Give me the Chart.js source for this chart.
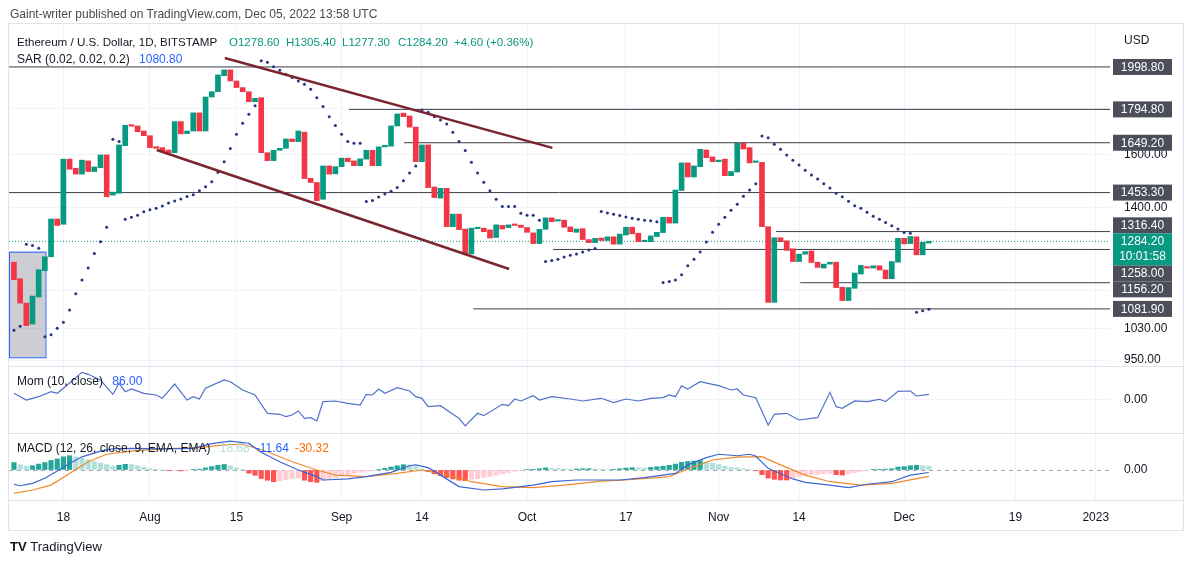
<!DOCTYPE html>
<html>
<head>
<meta charset="utf-8">
<script src="https://cdn.jsdelivr.net/npm/chart.js@4.4.1/dist/chart.umd.min.js"></script>
<style>
body { margin: 0; background: #fff; font-family: "Liberation Sans", Arial, sans-serif; }
#wrap { position: relative; width: 1194px; height: 565px; }
canvas { position: absolute; left: 0; top: 0; }
.t { position: absolute; font-size: 12px; line-height: 14px; white-space: nowrap; color: #131722; }
.t span { margin-left: 6px; }
.v { position: absolute; top: 35px; font-size: 11.5px; line-height: 14px; white-space: nowrap; color: #089981; }
.blue { color: #2962ff; }
</style>
</head>
<body>
<div id="wrap">
<canvas id="chart" width="1194" height="565"></canvas>
<div class="t" style="left:10px;top:7px;color:#4a4a4a">Gaint-writer published on TradingView.com, Dec 05, 2022 13:58 UTC</div>
<div class="t" style="left:17px;top:35px;font-size:11.6px">Ethereum / U.S. Dollar, 1D, BITSTAMP</div>
<div class="v" style="left:229px">O1278.60</div>
<div class="v" style="left:286px">H1305.40</div>
<div class="v" style="left:342px">L1277.30</div>
<div class="v" style="left:398px">C1284.20</div>
<div class="v" style="left:454px">+4.60 (+0.36%)</div>
<div class="t" style="left:17px;top:52px">SAR (0.02, 0.02, 0.2) <span class="blue">1080.80</span></div>
<div class="t" style="left:17px;top:374px">Mom (10, close) <span class="blue">86.00</span></div>
<div class="t" style="left:17px;top:441px">MACD (12, 26, close, 9, EMA, EMA) <span style="color:#b2dfdb">18.68</span><span class="blue">-11.64</span><span style="color:#ff6d00">-30.32</span></div>
<div class="t" style="left:10px;top:540px;font-weight:bold;font-size:13px">TV <span style="font-weight:normal;margin-left:0">TradingView</span></div>
</div>
<script>
// daily candles, index 0 = Jul 10 2022, index 148 = Dec 5 2022
const opens = [1218,1168,1098,1041,1115,1192,1235,1359,1341,1582,1546,1523,1575,1533,1548,1599,1444,1451,1637,1724,
  1721,1699,1679,1633,1629,1619,1608,1740,1688,1699,1779,1699,1852,1877,1955,1984,1929,1897,1877,1830,
  1849,1608,1576,1618,1626,1665,1654,1694,1507,1491,1429,1555,1524,1552,1586,1575,1556,1582,1618,1556,
  1632,1635,1721,1778,1765,1716,1572,1640,1474,1433,1469,1333,1376,1325,1244,1326,1328,1322,1297,1337,
  1330,1339,1338,1330,1312,1277,1324,1363,1352,1355,1332,1314,1326,1290,1280,1295,1287,1299,1275,1305,
  1331,1311,1283,1283,1300,1313,1365,1345,1461,1567,1512,1552,1619,1591,1572,1582,1517,1531,1647,1629,
  1569,1569,1333,1100,1296,1286,1260,1220,1243,1253,1218,1200,1212,1218,1143,1105,1140,1182,1204,1200,
  1207,1194,1168,1218,1294,1277,1299,1241,1278.6];
const closes = [1165,1098,1037,1118,1195,1235,1359,1337,1582,1542,1523,1578,1533,1551,1599,1438,1455,1640,1724,1720,
  1696,1679,1629,1626,1613,1606,1740,1687,1699,1779,1699,1852,1877,1959,1984,1929,1897,1877,1830,1846,
  1608,1576,1618,1626,1665,1654,1699,1506,1491,1424,1555,1523,1552,1586,1572,1556,1583,1618,1556,1632,
  1637,1721,1774,1762,1716,1572,1640,1472,1435,1469,1333,1376,1323,1244,1328,1329,1316,1295,1339,1325,
  1339,1337,1330,1314,1277,1324,1363,1350,1356,1331,1316,1325,1290,1280,1294,1287,1299,1275,1308,1331,
  1309,1283,1286,1302,1314,1365,1345,1463,1567,1512,1555,1622,1588,1572,1575,1517,1533,1647,1623,1567,
  1572,1333,1100,1296,1283,1255,1220,1243,1251,1217,1202,1212,1218,1142,1105,1142,1185,1208,1200,1207,
  1194,1168,1220,1294,1276,1300,1241,1281,1284.2];
const sar = [1025,1035,1275,1271,1262,1008,1013,1030,1046,1079,1124,1164,1200,1245,1283,1331,1664,1654,1358,1365,
  1372,1384,1391,1397,1405,1415,1423,1430,1439,1445,1460,1475,1494,1530,1572,1625,1685,1733,1773,1811,
  2030,2023,2000,1982,1962,1946,1929,1913,1889,1849,1808,1762,1723,1685,1654,1647,1647,1421,1424,1437,
  1448,1458,1472,1498,1527,1555,1792,1782,1762,1747,1730,1694,1654,1617,1570,1527,1492,1460,1429,1403,
  1403,1403,1379,1372,1372,1355,1220,1223,1227,1234,1240,1244,1250,1256,1261,1385,1380,1376,1371,1366,
  1362,1358,1355,1353,1350,1157,1160,1164,1180,1207,1227,1250,1282,1314,1341,1365,1390,1411,1440,1463,
  1486,1678,1670,1643,1622,1599,1578,1559,1538,1520,1504,1486,1470,1451,1438,1422,1406,1397,1383,1369,
  1358,1347,1336,1325,1313,1311,1073,1077,1080.8];

// momentum (10, close), vertices
const momDays = [0,2,4,6,7,8,11,12,14,16,17,18,19,21,23,24,26,28,29,30,31,34,35,37,39,41,43,44,45,46,47,48,49,50,52,54,56,57,58,59,
  60,62,64,65,66,67,69,71,72,73,75,76,79,80,81,82,84,85,87,90,92,95,97,99,101,103,105,106,107,108,109,111,113,114,116,117,118,120,
  122,123,125,127,129,130,132,133,134,136,138,140,141,143,145,146,148];
const momValues = [103,-12,45,131,103,189,464,430,332,86,275,131,177,103,74,17,263,-12,45,5,189,332,303,160,74,-241,-258,-299,-270,-201,-327,-316,-373,-41,-29,-69,-98,86,74,177,
  103,200,143,45,17,-127,-110,-258,-327,-459,-241,-282,-86,-110,5,-29,62,-12,45,5,-29,17,-58,5,-29,17,28,74,45,234,177,303,258,234,160,177,74,28,
  -442,-258,-241,-356,-327,-316,120,-127,-155,-29,-41,0,-41,138,143,57,86];

// MACD (12, 26, 9)
const macdDays = [0,1,3,5,7,9,11,14,16,19,24,29,32,35,38,40,43,46,49,50,54,57,61,64,65,67,69,72,76,79,84,87,91,95,98,102,107,109,112,114,117,119,120,122,126,128,132,135,138,142,145,148];
const macdValues = [-67,-74,-63,-39,-5,31,62,89,99,102,99,102,124,136,125,83,39,0,-31,-47,-42,-31,-11,20,24,11,-24,-78,-94,-89,-71,-55,-47,-47,-47,-36,-16,24,58,74,67,74,66,8,-42,-58,-71,-83,-67,-55,-24,-11.64];
const signalDays = [0,3,6,9,12,15,19,24,30,34,37,41,45,49,52,57,62,66,70,74,79,84,89,95,99,106,109,113,117,121,124,128,132,137,142,148];
const signalValues = [-110,-94,-71,-16,39,74,89,99,105,118,121,86,39,0,-24,-31,-16,0,-24,-55,-78,-83,-71,-52,-47,-31,5,47,61,63,24,-24,-55,-71,-63,-30.32];
const histValues = [35,25,18,20,28,35,45,52,62,67,62,55,48,40,32,25,18,22,27,26,
  20,12,6,3,0,-3,-2,-4,-1,2,4,10,16,22,26,20,10,2,-15,-25,
  -40,-48,-55,-50,-45,-40,-38,-48,-55,-58,-50,-42,-35,-28,-22,-16,-10,-5,-2,2,
  8,14,20,25,24,15,5,-8,-18,-26,-35,-42,-48,-50,-44,-40,-35,-30,-24,-18,
  -12,-6,-2,2,3,6,10,8,7,5,4,5,6,6,5,4,3,3,6,9,
  11,10,9,12,15,18,22,28,36,40,42,44,38,32,26,18,12,10,6,2,
  -2,-22,-38,-44,-47,-47,-40,-32,-25,-22,-20,-18,-16,-22,-24,-18,-12,-6,-2,2,
  3,4,6,14,16,20,22,20,18.68];

// horizontal levels and where they start (day index, null = from the left edge)
const levelPrices = [1998.8, 1794.8, 1649.2, 1453.3, 1316.4, 1258.0, 1156.2, 1081.9];
const levelStart = [null, 54.2, 63.1, null, 123.3, 87.2, 127.2, 74.3];
const lastPrice = 1284.2;
const countdown = '10:01:58';

// channel trendlines [day, price]
const upperTrend = [[34.1, 2045], [87.1, 1628]];
const lowerTrend = [[23.1, 1619], [80.1, 1197]];

// highlighted box drawing
const boxDays = [null, 5.1];
const boxPrices = [1251, 957];

const tickDays = [8, 22, 36, 53, 66, 83, 99, 114, 127, 144, 162, 175];
const tickLabels = ['18', 'Aug', '15', 'Sep', '14', 'Oct', '17', 'Nov', '14', 'Dec', '19', '2023'];
const priceGrid = [950, 1030, 1135, 1400, 1600, 1800, 2000];
const priceLabels = [950, 1030, 1400, 1600];

const X_MIN = -0.8, X_MAX = 177.3;
const UP = '#089981', DOWN = '#f23645';
const FONT = { family: '"Liberation Sans", Arial, sans-serif', size: 12 };

const histColor = ctx => {
    const i = ctx.dataIndex;
    const v = histValues[i];
    const prev = i > 0 ? histValues[i - 1] : v;
    if (v >= 0) return v >= prev ? '#26a69a' : '#b2dfdb';
    return v <= prev ? '#ff5252' : '#ffcdd2';
};

const levelSets = levelPrices.map((p, i) => ({
    type: 'line',
    data: [{ x: levelStart[i] === null ? X_MIN : levelStart[i], y: p }, { x: X_MAX, y: p }],
    borderColor: '#3c3f48', borderWidth: 1, pointRadius: 0, yAxisID: 'y', order: 5
}));

const trendSets = [upperTrend, lowerTrend].map(t => ({
    type: 'line',
    data: t.map(d => ({ x: d[0], y: d[1] })),
    borderColor: '#7a2530', borderWidth: 2.5, pointRadius: 0, yAxisID: 'y', order: 0
}));

const boxPlugin = {
    id: 'boxes',
    beforeDatasetsDraw(chart) {
        const { ctx, scales } = chart;
        const x0 = scales.x.getPixelForValue(boxDays[0] === null ? X_MIN : boxDays[0]);
        const x1 = scales.x.getPixelForValue(boxDays[1]);
        const y0 = scales.y.getPixelForValue(boxPrices[0]);
        const y1 = scales.y.getPixelForValue(boxPrices[1]);
        ctx.save();
        ctx.fillStyle = 'rgba(120,126,140,0.38)';
        ctx.fillRect(x0, y0, x1 - x0, y1 - y0);
        ctx.strokeStyle = '#2962ff';
        ctx.lineWidth = 1;
        ctx.strokeRect(x0 + 0.5, y0 + 0.5, x1 - x0, y1 - y0);
        ctx.restore();
    }
};

const tagPlugin = {
    id: 'tags',
    afterDraw(chart) {
        const { ctx, chartArea, scales } = chart;
        const ys = scales.y;
        const left = chartArea.right + 3, w = 59, h = 16;
        const cy = ys.getPixelForValue(lastPrice);
        const curTop = cy - h / 2, curBot = curTop + 32;

        const tags = levelPrices.map(p => ({ p, c: ys.getPixelForValue(p) }));
        let limit = curTop;
        tags.filter(t => t.p > lastPrice).sort((a, b) => b.c - a.c).forEach(t => {
            if (t.c + h / 2 > limit) t.c = limit - h / 2;
            limit = t.c - h / 2;
        });
        limit = curBot;
        tags.filter(t => t.p < lastPrice).sort((a, b) => a.c - b.c).forEach(t => {
            if (t.c - h / 2 < limit) t.c = limit + h / 2;
            limit = t.c + h / 2;
        });

        ctx.save();
        ctx.font = '12px "Liberation Sans", Arial, sans-serif';
        ctx.textAlign = 'center';
        ctx.textBaseline = 'middle';
        tags.forEach(t => {
            ctx.fillStyle = '#4c4f59';
            ctx.fillRect(left, t.c - h / 2, w, h);
            ctx.fillStyle = '#ffffff';
            ctx.fillText(t.p.toFixed(2), left + w / 2, t.c + 0.5);
        });
        ctx.fillStyle = UP;
        ctx.fillRect(left, curTop, w, 32);
        ctx.fillStyle = '#ffffff';
        ctx.fillText(lastPrice.toFixed(2), left + w / 2, cy + 0.5);
        ctx.fillText(countdown, left + w / 2, cy + 15.5);

        ctx.fillStyle = '#131722';
        ctx.textAlign = 'left';
        ctx.fillText('USD', chartArea.right + 14, 41);

        // frame and pane separators
        ctx.strokeStyle = '#e0e3eb';
        ctx.lineWidth = 1;
        ctx.strokeRect(8.5, 23.5, 1175, 507);
        [scales.yMom.top, scales.yMacd.top, chartArea.bottom].forEach(y => {
            ctx.beginPath();
            ctx.moveTo(8, Math.round(y) + 0.5);
            ctx.lineTo(1183, Math.round(y) + 0.5);
            ctx.stroke();
        });
        ctx.restore();
    }
};

new Chart(document.getElementById('chart'), {
    type: 'bar',
    data: {
        datasets: [
            {
                type: 'bar',
                data: opens.map((o, i) => ({ x: i, y: [o, closes[i]] })),
                backgroundColor: ctx => closes[ctx.dataIndex] >= opens[ctx.dataIndex] ? UP : DOWN,
                barThickness: 5, minBarLength: 1.5, grouped: false, yAxisID: 'y', order: 2
            },
            {
                type: 'scatter',
                data: sar.map((v, i) => ({ x: i, y: v })),
                pointRadius: 1.5, pointBackgroundColor: '#27337d', pointBorderWidth: 0,
                yAxisID: 'y', order: 1
            },
            {
                type: 'line',
                data: [{ x: X_MIN, y: lastPrice }, { x: X_MAX, y: lastPrice }],
                borderColor: UP, borderWidth: 1, borderDash: [1, 2], pointRadius: 0, yAxisID: 'y', order: 4
            },
            ...levelSets,
            ...trendSets,
            {
                type: 'line',
                data: momDays.map((d, i) => ({ x: d, y: momValues[i] })),
                borderColor: '#5070cc', borderWidth: 1.2, pointRadius: 0, yAxisID: 'yMom', order: 1
            },
            {
                type: 'bar',
                data: histValues.map((v, i) => ({ x: i, y: v })),
                backgroundColor: histColor, barThickness: 4.5, grouped: false, yAxisID: 'yMacd', order: 3
            },
            {
                type: 'line',
                data: macdDays.map((d, i) => ({ x: d, y: macdValues[i] })),
                borderColor: '#3f66d0', borderWidth: 1.2, pointRadius: 0, yAxisID: 'yMacd', order: 1
            },
            {
                type: 'line',
                data: signalDays.map((d, i) => ({ x: d, y: signalValues[i] })),
                borderColor: '#f08a2c', borderWidth: 1.2, pointRadius: 0, yAxisID: 'yMacd', order: 1
            }
        ]
    },
    options: {
        responsive: false,
        animation: false,
        layout: { padding: { left: 9, right: 11, top: 24, bottom: 35 } },
        plugins: { legend: { display: false }, tooltip: { enabled: false } },
        scales: {
            x: {
                type: 'linear', min: X_MIN, max: X_MAX, offset: false,
                afterBuildTicks: s => { s.ticks = tickDays.map(v => ({ value: v })); },
                afterFit: s => { s.height = 30; },
                ticks: {
                    autoSkip: false, maxRotation: 0, padding: 10, color: '#131722', font: FONT,
                    callback: (v, i) => tickLabels[i]
                },
                grid: { color: '#f0f3fa', drawTicks: false, offset: false },
                border: { display: false }
            },
            y: {
                type: 'logarithmic', position: 'right', stack: 'panes', stackWeight: 342,
                min: 936, max: 2229,
                afterBuildTicks: s => { s.ticks = priceGrid.map(v => ({ value: v })); },
                afterFit: s => { s.width = 73; },
                ticks: {
                    padding: 14, crossAlign: 'near', color: '#131722', font: FONT,
                    callback: v => priceLabels.includes(v) ? v.toFixed(2) : ''
                },
                grid: { color: '#f0f3fa', drawTicks: false },
                border: { display: false }
            },
            yMom: {
                type: 'linear', position: 'right', stack: 'panes', stackWeight: 67,
                min: -580, max: 573,
                afterBuildTicks: s => { s.ticks = [{ value: 0 }]; },
                afterFit: s => { s.width = 73; },
                ticks: { padding: 14, crossAlign: 'near', color: '#131722', font: FONT, callback: v => v.toFixed(2) },
                grid: { color: '#f0f3fa', drawTicks: false },
                border: { display: false }
            },
            yMacd: {
                type: 'linear', position: 'right', stack: 'panes', stackWeight: 67,
                min: -141, max: 174,
                afterBuildTicks: s => { s.ticks = [{ value: 0 }]; },
                afterFit: s => { s.width = 73; },
                ticks: { padding: 14, crossAlign: 'near', color: '#131722', font: FONT, callback: v => v.toFixed(2) },
                grid: { color: '#a3a6af', drawTicks: false },
                border: { display: false, dash: [4, 4] }
            }
        }
    },
    plugins: [boxPlugin, tagPlugin]
});
</script>
</body>
</html>
